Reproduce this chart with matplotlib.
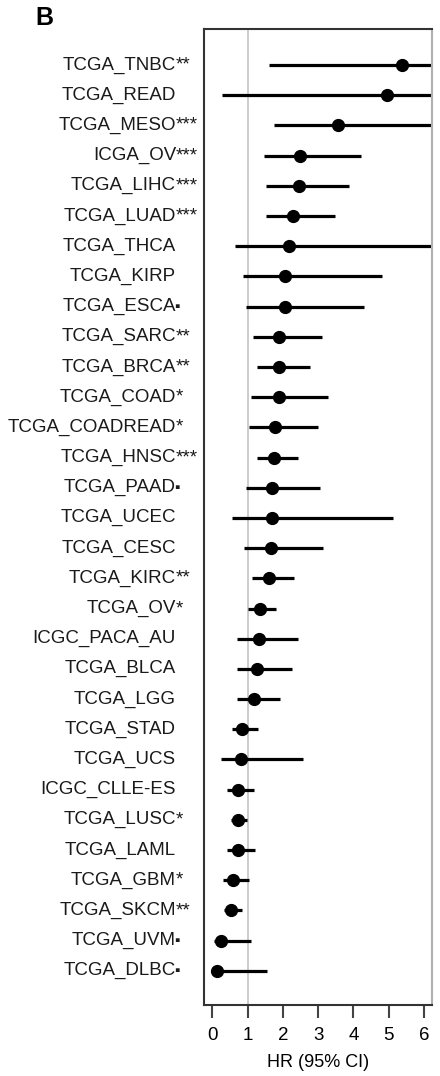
import matplotlib
matplotlib.use("Agg")
import matplotlib.pyplot as plt
import numpy as np

plt.rcParams['font.family'] = ['Liberation Sans', 'DejaVu Sans']

# cohorts, top to bottom
names = ["TCGA_TNBC", "TCGA_READ", "TCGA_MESO", "ICGA_OV", "TCGA_LIHC", "TCGA_LUAD",
         "TCGA_THCA", "TCGA_KIRP", "TCGA_ESCA", "TCGA_SARC", "TCGA_BRCA", "TCGA_COAD",
         "TCGA_COADREAD", "TCGA_HNSC", "TCGA_PAAD", "TCGA_UCEC", "TCGA_CESC", "TCGA_KIRC",
         "TCGA_OV", "ICGC_PACA_AU", "TCGA_BLCA", "TCGA_LGG", "TCGA_STAD", "TCGA_UCS",
         "ICGC_CLLE-ES", "TCGA_LUSC", "TCGA_LAML", "TCGA_GBM", "TCGA_SKCM", "TCGA_UVM",
         "TCGA_DLBC"]
signif = ["**", "", "***", "***", "***", "***", "", "", "\u25aa", "**", "**", "*",
          "*", "***", "\u25aa", "", "", "**", "*", "", "", "", "", "",
          "", "*", "", "*", "**", "\u25aa", "\u25aa"]
hr = [5.39, 4.94, 3.57, 2.50, 2.45, 2.29, 2.18, 2.05, 2.05, 1.90, 1.88, 1.88,
      1.77, 1.75, 1.70, 1.70, 1.66, 1.62, 1.35, 1.33, 1.28, 1.19, 0.84, 0.82,
      0.72, 0.72, 0.72, 0.58, 0.53, 0.26, 0.14]
lo = [1.62, 0.27, 1.76, 1.46, 1.53, 1.51, 0.63, 0.86, 0.95, 1.16, 1.28, 1.09,
      1.04, 1.26, 0.96, 0.56, 0.89, 1.14, 1.02, 0.71, 0.71, 0.71, 0.55, 0.26,
      0.42, 0.52, 0.42, 0.30, 0.34, 0.06, 0.02]
hi = [9.0, 9.0, 9.0, 4.22, 3.87, 3.49, 9.0, 4.81, 4.29, 3.11, 2.78, 3.27,
      3.00, 2.42, 3.06, 5.13, 3.13, 2.33, 1.80, 2.44, 2.27, 1.92, 1.29, 2.58,
      1.19, 0.99, 1.22, 1.03, 0.84, 1.10, 1.55]
xticks = [0, 1, 2, 3, 4, 5, 6]

fig = plt.figure(figsize=(4.4, 10.76), dpi=100)
ax = fig.add_axes([204 / 440, 1 - 1005 / 1076, 228 / 440, (1005 - 29) / 1076])

y = np.arange(len(names))
ax.axvline(1, color='#c8c8c8', lw=1.3, zorder=1)
ax.hlines(y, lo, hi, color='black', lw=2.3, zorder=2)
ax.plot(hr, y, 'o', color='black', ms=8.5, zorder=3)

ax.set_xlim(-0.235, 6.23)
ax.set_ylim(31.13, -1.19)
ax.set_xticks(xticks)
ax.set_xticklabels([str(t) for t in xticks], fontsize=13.5)
ax.tick_params(axis='x', length=9, width=1.5, color='#444444', pad=7)
ax.set_yticks([])
ax.set_xlabel("HR (95% CI)", fontsize=13, labelpad=7)

for side in ['left', 'top', 'bottom']:
    ax.spines[side].set_color('#333333')
    ax.spines[side].set_linewidth(1.5)
ax.spines['right'].set_color('#b0b0b0')
ax.spines['right'].set_linewidth(1.5)

# labels: base name right-aligned, significance mark appended
for i in range(len(names)):
    ax.annotate(names[i], xy=(0, y[i]), xycoords=('axes fraction', 'data'),
                xytext=(-28, 0), textcoords='offset pixels',
                ha='right', va='center', fontsize=13.5, color='#1a1a1a')
    if signif[i]:
        small = signif[i] == "\u25aa"
        ax.annotate(signif[i], xy=(0, y[i]), xycoords=('axes fraction', 'data'),
                    xytext=(-30 if small else -28, 0), textcoords='offset pixels',
                    ha='left', va='center', fontsize=11 if small else 13.5,
                    color='#1a1a1a')

fig.text(35 / 440, 1 - 18 / 1076, "B", fontsize=18, fontweight='bold',
         ha='left', va='center')

fig.savefig("out.png", dpi=100)
